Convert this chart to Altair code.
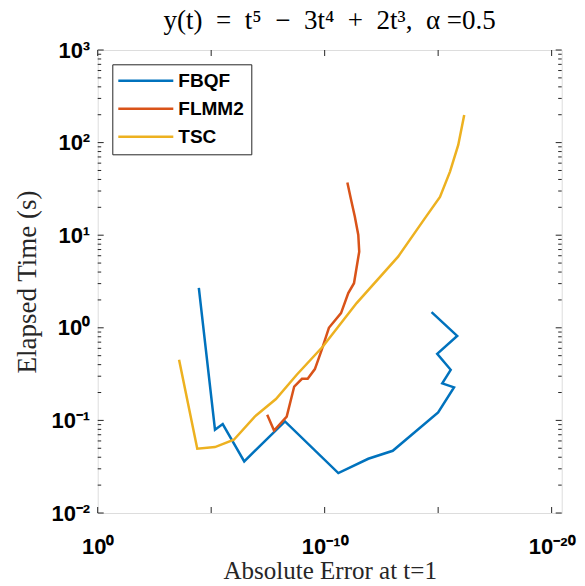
import altair as alt
import pandas as pd

# ---- data ----
fbqf_err = [3.5e-5, 6.8e-6, 3.1e-6, 3.5e-7, 5.6e-9, 2.5e-11, 1.2e-12, 1.0e-13,
            1.0e-15, 2.0e-16, 6.6e-16, 2.8e-16, 1.1e-15, 1.45e-16, 1.95e-15]
fbqf_time = [2.70, 0.0793, 0.0914, 0.0361, 0.0975, 0.0270, 0.0385, 0.0470,
             0.122, 0.227, 0.251, 0.352, 0.524, 0.818, 1.476]

flmm2_err = [3.4e-8, 1.7e-8, 4.7e-9, 2.2e-9, 1.0e-9, 5.6e-10, 2.7e-10, 1.35e-10,
             6.5e-11, 1.9e-11, 9.1e-12, 5.1e-12, 3.0e-12, 3.3e-12, 4.7e-12, 7.1e-12, 1.0e-11]
flmm2_time = [0.115, 0.0778, 0.110, 0.232, 0.281, 0.281, 0.358, 0.578,
              1.0, 1.44, 2.37, 3.03, 6.65, 10.07, 15.9, 25.1, 37.0]

tsc_err = [2.6e-4, 4.1e-5, 6.8e-6, 1.0e-6, 1.2e-7, 1.4e-8, 1.7e-9, 1.2e-10,
           3.9e-12, 5.8e-14, 3.8e-15, 8.3e-16, 3.0e-16, 1.3e-16, 7.1e-17]
tsc_time = [0.451, 0.0494, 0.0515, 0.0618, 0.110, 0.170, 0.311, 0.628,
            1.85, 5.87, 15.3, 25.9, 48.6, 94.4, 199.0]

methods = ["FBQF", "FLMM2", "TSC"]
colors = ["#0072BD", "#D95319", "#EDB120"]

x_major = [1, 1e-5, 1e-10, 1e-15, 1e-20]
y_major = [1e-2, 1e-1, 1, 10, 100, 1000]
y_minor = [m * 10.0 ** k for k in range(-2, 3) for m in range(2, 10)]

W, H = 464, 463

rows = []
for name, errs, times in [("FBQF", fbqf_err, fbqf_time),
                          ("FLMM2", flmm2_err, flmm2_time),
                          ("TSC", tsc_err, tsc_time)]:
    for i, (e, t) in enumerate(zip(errs, times)):
        rows.append({"method": name, "err": e, "time": t, "idx": i})
df = pd.DataFrame(rows)

SUP = {"0": "⁰", "1": "¹", "2": "²", "3": "³", "4": "⁴", "5": "⁵",
       "6": "⁶", "7": "⁷", "8": "⁸", "9": "⁹", "-": "⁻"}


def sup_label_expr(exps, show=None):
    expr = "''"
    for k in exps:
        if show is not None and k not in show:
            continue
        s = "10" + "".join(SUP[c] for c in str(k))
        expr = f"(round(log(datum.value)/LN10) == {k}) ? '{s}' : " + expr
    return expr


xscale = alt.Scale(type="log", domain=[3.6e-21, 1], reverse=True, nice=False)
yscale = alt.Scale(type="log", domain=[0.01, 1000], nice=False)

label_font = "Liberation Sans"
serif = "Liberation Serif"

x_axis = alt.Axis(values=x_major, labelExpr=sup_label_expr([0, -5, -10, -15, -20], show=[0, -10, -20]),
                  ticks=False, grid=False, domain=False, labelFont=label_font,
                  labelFontWeight="bold", labelFontSize=22, labelColor="#000000",
                  labelPadding=23, title="Absolute Error at t=1", titleFont=serif,
                  titleFontWeight="normal", titleFontSize=25, titleColor="#262626",
                  titlePadding=1, labelFlush=False)
y_axis = alt.Axis(values=y_major, labelExpr=sup_label_expr([-2, -1, 0, 1, 2, 3]),
                  ticks=False, grid=False, domain=False, labelFont=label_font,
                  labelFontWeight="bold", labelFontSize=22, labelColor="#000000",
                  labelPadding=8, title="Elapsed Time (s)", titleFont=serif,
                  titleFontWeight="normal", titleFontSize=27, titleColor="#262626",
                  titlePadding=9, labelFlush=False)

lines = alt.Chart(df).mark_line(strokeWidth=2.5).encode(
    x=alt.X("err:Q", scale=xscale, axis=x_axis),
    y=alt.Y("time:Q", scale=yscale, axis=y_axis),
    color=alt.Color("method:N", sort=methods,
                    scale=alt.Scale(domain=methods, range=colors),
                    legend=alt.Legend(title=None, orient="none", legendX=14.6, legendY=14.3,
                                      symbolType="M-5,0H5", symbolSize=121,
                                      symbolOffset=17,
                                      symbolStrokeWidth=2.5, labelFont=label_font,
                                      labelFontWeight="bold", labelFontSize=19,
                                      labelColor="#000000", labelOffset=23,
                                      strokeColor="#262626", fillColor="#ffffff",
                                      padding=7, rowPadding=8, labelLimit=300,
                                      columnPadding=10)),
    order="idx:Q",
)

tick_color = "#262626"
ymaj_df = pd.DataFrame({"v": y_major})
ymin_df = pd.DataFrame({"v": y_minor})
xmaj_df = pd.DataFrame({"v": x_major})


def yticks(data, length):
    left = alt.Chart(data).mark_rule(color=tick_color, strokeWidth=1).encode(
        y=alt.Y("v:Q", scale=yscale), x=alt.value(0), x2=alt.value(length))
    right = alt.Chart(data).mark_rule(color=tick_color, strokeWidth=1).encode(
        y=alt.Y("v:Q", scale=yscale), x=alt.value(W), x2=alt.value(W - length))
    return left + right


def xticks(data, length):
    bottom = alt.Chart(data).mark_rule(color=tick_color, strokeWidth=1).encode(
        x=alt.X("v:Q", scale=xscale), y=alt.value(H), y2=alt.value(H - length))
    top = alt.Chart(data).mark_rule(color=tick_color, strokeWidth=1).encode(
        x=alt.X("v:Q", scale=xscale), y=alt.value(0), y2=alt.value(length))
    return bottom + top


sp = "\u2002"
title_text = f"y(t){sp}={sp}t⁵{sp}−{sp}3t⁴{sp}+{sp}2t³,{sp}α =0.5"

chart = alt.layer(
    yticks(ymaj_df, 6), yticks(ymin_df, 3.5), xticks(xmaj_df, 6), lines
).properties(
    width=W, height=H,
    title=alt.Title(title_text, font=serif, fontSize=27,
                    fontWeight="normal", color="#000000", offset=4, anchor="middle"),
    autosize=alt.AutoSizeParams(type="none"),
    padding={"left": 97.7, "top": 50, "right": 23.3, "bottom": 73},
).configure_view(
    stroke="#262626", strokeWidth=1.2
).configure(background="#ffffff")

chart.save("out.html", embed_options={"renderer": "svg", "actions": False})
